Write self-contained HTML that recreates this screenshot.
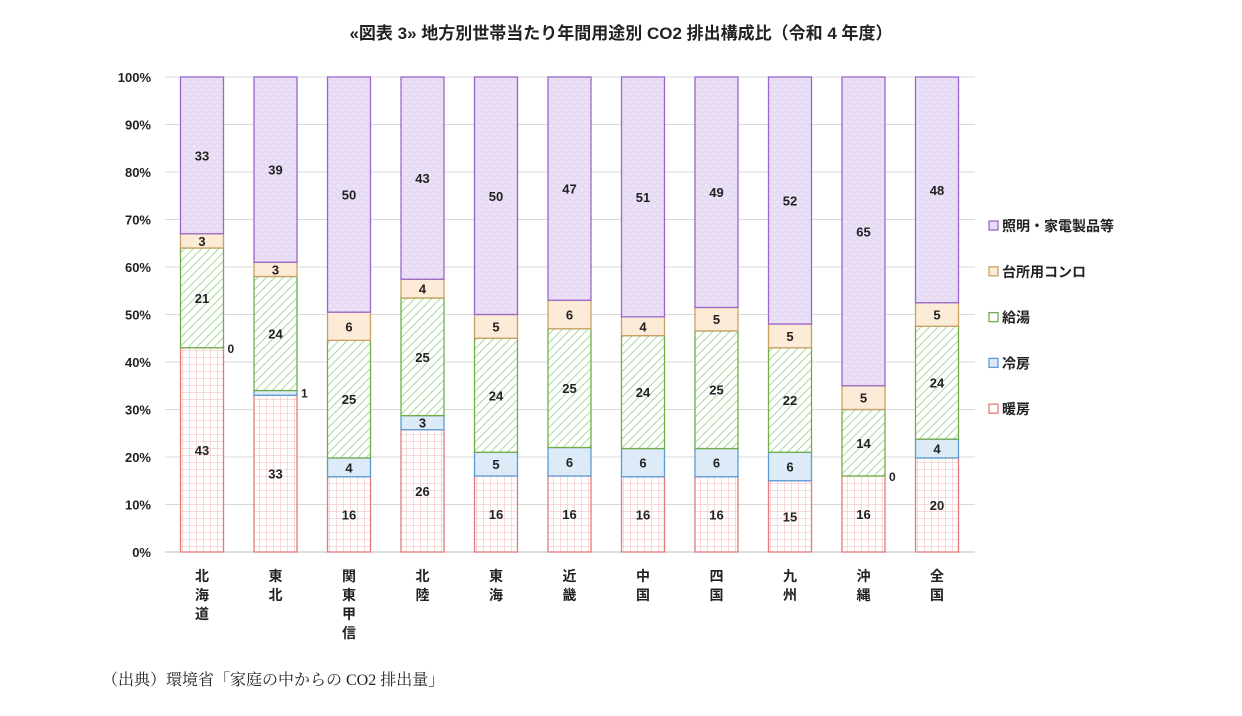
<!DOCTYPE html>
<html><head><meta charset="utf-8"><style>
body{margin:0;background:#fff;}
svg text{font-family:"Liberation Sans","Noto Sans CJK JP",sans-serif;}
</style></head><body>
<svg id="s" width="1242" height="711" xmlns="http://www.w3.org/2000/svg">
<defs>
<pattern id="pHeat" width="7" height="7" patternUnits="userSpaceOnUse"><rect width="7" height="7" fill="#fff"/><path d="M0 0H7M0 0V7" stroke="#f2b5b5" stroke-width="1"/></pattern>
<pattern id="pWater" width="6" height="6" patternUnits="userSpaceOnUse" patternTransform="rotate(45)"><rect width="6" height="6" fill="#fff"/><line x1="0" y1="0" x2="0" y2="6" stroke="#a9d8a0" stroke-width="2"/></pattern>
<pattern id="pLight" width="8" height="8" patternUnits="userSpaceOnUse"><rect width="8" height="8" fill="#e8dcf4"/><circle cx="2" cy="2" r="0.7" fill="#fff"/><circle cx="6" cy="6" r="0.7" fill="#fff"/></pattern>
</defs>
<text x="621" y="39" text-anchor="middle" font-size="17" font-weight="bold" fill="#222">«図表 3» 地方別世帯当たり年間用途別 CO2 排出構成比（令和 4 年度）</text>
<g id="g"></g>
<text x="102" y="685" font-size="16" fill="#222" style="font-family:'Liberation Serif','Noto Serif CJK SC',serif">（出典）環境省「家庭の中からの CO2 排出量」</text>
</svg>
<script>
const g=document.getElementById('g');let h='';
const y0=552,k=4.75;
for(let i=0;i<=10;i++){const y=y0-i*47.5;
h+=`<line x1="165" x2="975" y1="${y}" y2="${y}" stroke="#d9d9d9"/>`;
h+=`<text x="151" y="${y+5}" text-anchor="end" font-size="13" font-weight="bold" fill="#222">${i*10}%</text>`;}
h+=`<line x1="165" x2="975" y1="552" y2="552" stroke="#bbb"/>`;
const names=[["北","海","道"],["東","北"],["関","東","甲","信"],["北","陸"],["東","海"],["近","畿"],["中","国"],["四","国"],["九","州"],["沖","縄"],["全","国"]];
const d=[[43,0,21,3,33],[33,1,24,3,39],[16,4,25,6,50],[26,3,25,4,43],[16,5,24,5,50],[16,6,25,6,47],[16,6,24,4,51],[16,6,25,5,49],[15,6,22,5,52],[16,0,14,5,65],[20,4,24,5,48]];
const fills=['url(#pHeat)','#dcebf7','url(#pWater)','#fcebd6','url(#pLight)'];
const strokes=['#e57a7a','#5b9bd5','#70ad47','#c9a064','#9966cc'];
d.forEach((v,i)=>{const cx=202+i*73.5,x=cx-21.5,w=43;const tot=v.reduce((a,b)=>a+b);let cum=0;
v.forEach((val,j)=>{const yb=y0-cum/tot*100*k;cum+=val;const yt=y0-cum/tot*100*k;const hh=yb-yt;
if(val>0){h+=`<rect x="${x}" y="${yt}" width="${w}" height="${hh}" fill="${fills[j]}" stroke="${strokes[j]}" stroke-width="1.3"/>`;
if(hh>10)h+=`<text x="${cx}" y="${(yt+yb)/2+5}" text-anchor="middle" font-size="13" font-weight="bold" fill="#222">${val}</text>`;
else h+=`<text x="${x+w+4}" y="${yb+2}" font-size="12" font-weight="bold" fill="#222">${val}</text>`;}
else h+=`<text x="${x+w+4}" y="${yb+5}" font-size="12" font-weight="bold" fill="#222">${val}</text>`;});
names[i].forEach((c,m)=>{h+=`<text x="${cx}" y="${581+m*19}" text-anchor="middle" font-size="14" font-weight="bold" fill="#222">${c}</text>`;});});
const lg=[['照明・家電製品等','#e8dcf4','#9966cc'],['台所用コンロ','#fcebd6','#c9a064'],['給湯','#fff','#70ad47'],['冷房','#dcebf7','#5b9bd5'],['暖房','#fff','#e57a7a']];
lg.forEach((l,i)=>{const y=226+i*45.8;h+=`<rect x="989" y="${y-5}" width="9" height="9" fill="${l[1]}" stroke="${l[2]}" stroke-width="1.3"/>`;
h+=`<text x="1002" y="${y+5}" font-size="14" font-weight="bold" fill="#222">${l[0]}</text>`;});
g.innerHTML=h;
</script>
</body></html>
